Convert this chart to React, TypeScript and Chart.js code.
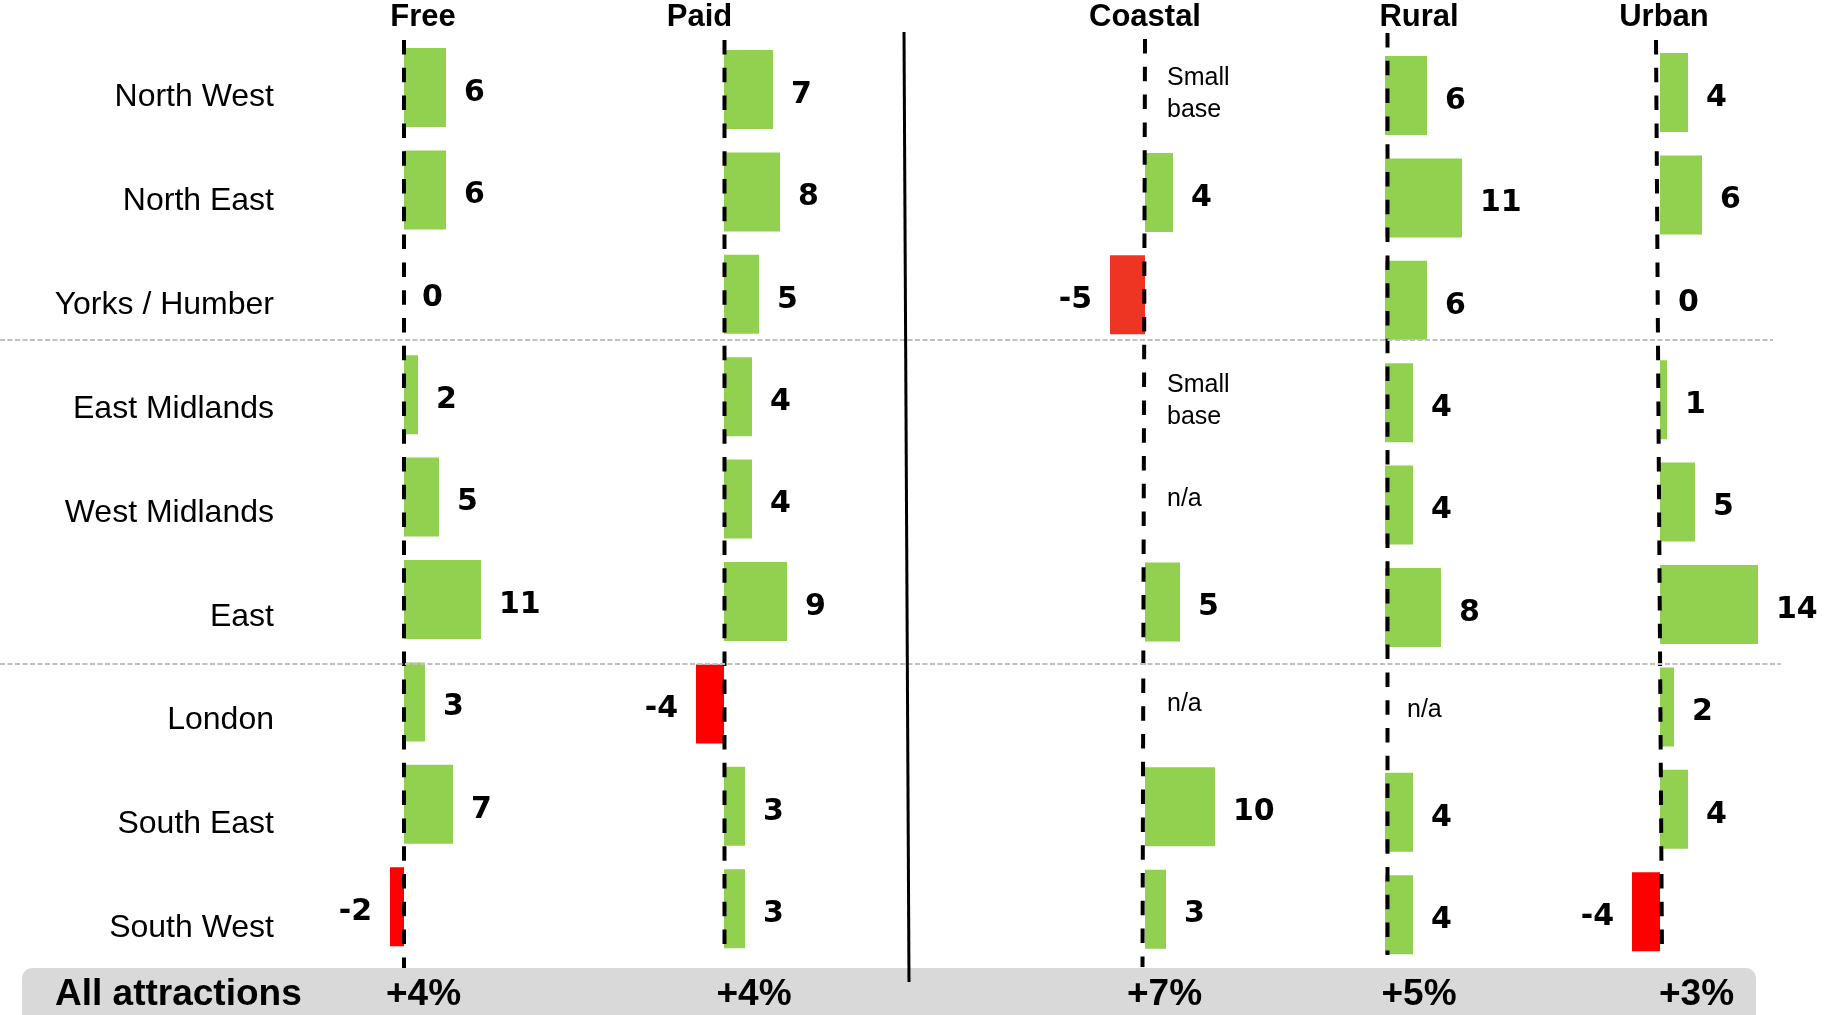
import { useEffect, useRef } from "react";
import { Chart, registerables } from "chart.js";

Chart.register(...registerables);

// ---- data ----
const REGIONS = [
  "North West",
  "North East",
  "Yorks / Humber",
  "East Midlands",
  "West Midlands",
  "East",
  "London",
  "South East",
  "South West",
];
const PANEL_TITLES = ["Free", "Paid", "Coastal", "Rural", "Urban"];
const FREE = [6, 6, 0, 2, 5, 11, 3, 7, -2];
const PAID = [7, 8, 5, 4, 4, 9, -4, 3, 3];
const COASTAL = [null, 4, -5, null, null, 5, null, 10, 3];
const RURAL = [6, 11, 6, 4, 4, 8, null, 4, 4];
const URBAN = [4, 6, 0, 1, 5, 14, 2, 4, -4];
const COASTAL_NOTES = ["Small base", "", "", "Small base", "n/a", "", "n/a", "", ""];
const RURAL_NOTES = ["", "", "", "", "", "", "n/a", "", ""];
const NO_NOTES = ["", "", "", "", "", "", "", "", ""];
const TOTAL_LABEL = "All attractions";
const TOTALS = ["+4%", "+4%", "+7%", "+5%", "+3%"];

const SERIES = [FREE, PAID, COASTAL, RURAL, URBAN];
const NOTES = [NO_NOTES, NO_NOTES, COASTAL_NOTES, RURAL_NOTES, NO_NOTES];

// ---- layout & style ----
const W = 1825;
const H = 1015;
const GREEN = "#92D050";
const PX_PER_UNIT = 7;
const X_MIN = -16;
const X_MAX = 23;
const CANVAS_H = 975;
const ROW_TOP = 36.3;
const ROW_BOTTOM = 957.9;
const SANS = "'Liberation Sans', Arial, sans-serif";

type PanelLayout = {
  zeroX: number;
  dy: number;
  dashTop: number;
  dashBottom: number;
  dashShift: [number, number];
  neg: string;
  titleX: number;
  totalX: number;
};

const PANELS: PanelLayout[] = [
  { zeroX: 404, dy: 0, dashTop: 40, dashBottom: 968, dashShift: [0, 0], neg: "#FF0000", titleX: 423, totalX: 423.5 },
  { zeroX: 723.5, dy: 2, dashTop: 40, dashBottom: 952, dashShift: [0.5, 0.5], neg: "#FF0000", titleX: 699.5, totalX: 754 },
  { zeroX: 1145, dy: 2.5, dashTop: 39, dashBottom: 967, dashShift: [0, -2.5], neg: "#EE3524", titleX: 1145, totalX: 1164.5 },
  { zeroX: 1385, dy: 8, dashTop: 33, dashBottom: 955, dashShift: [2.5, 2.5], neg: "#FF0000", titleX: 1419, totalX: 1419 },
  { zeroX: 1660, dy: 5, dashTop: 40, dashBottom: 952, dashShift: [-4, 2], neg: "#FF0000", titleX: 1664, totalX: 1696.5 },
];

function Panel({ index }: { index: number }) {
  const ref = useRef<HTMLCanvasElement | null>(null);
  const layout = PANELS[index];
  const values = SERIES[index];
  const notes = NOTES[index];
  const left = layout.zeroX + X_MIN * PX_PER_UNIT;
  const width = (X_MAX - X_MIN) * PX_PER_UNIT;

  useEffect(() => {
    if (!ref.current) return;
    const marks = {
      id: "panelMarks",
      afterDatasetsDraw(chart: any) {
        const ctx = chart.ctx as CanvasRenderingContext2D;
        const xs = chart.scales.x;
        const ys = chart.scales.y;
        const zero = xs.getPixelForValue(0);

        // dashed zero line
        ctx.save();
        ctx.strokeStyle = "#000";
        ctx.lineWidth = 4;
        ctx.setLineDash([14.5, 13.3]);
        ctx.beginPath();
        ctx.moveTo(zero + layout.dashShift[0], layout.dashTop);
        ctx.lineTo(zero + layout.dashShift[1], layout.dashBottom);
        ctx.stroke();
        ctx.restore();

        // value labels and notes
        const meta = chart.getDatasetMeta(0);
        ctx.save();
        ctx.fillStyle = "#000";
        values.forEach((v: number | null, i: number) => {
          if (v === null || v === undefined) {
            const note = notes[i];
            if (!note) return;
            const y = ys.getPixelForValue(i);
            const lines = note.split(" ");
            ctx.font = `25px ${SANS}`;
            ctx.textAlign = "left";
            if (lines.length === 1) {
              ctx.textBaseline = "middle";
              ctx.fillText(lines[0], zero + 22, y);
            } else {
              ctx.textBaseline = "alphabetic";
              ctx.fillText(lines[0], zero + 22, y - 5);
              ctx.fillText(lines[1], zero + 22, y + 26.5);
            }
            return;
          }
          const bar = meta.data[i];
          if (!bar) return;
          ctx.font = "bold 30px 'DejaVu Sans', Verdana, sans-serif";
          ctx.textBaseline = "middle";
          if (v >= 0) {
            ctx.textAlign = "left";
            ctx.fillText(String(v), bar.x + 18, bar.y + 5.5);
          } else {
            ctx.textAlign = "right";
            ctx.fillText(String(v), bar.x - 18, bar.y + 5.5);
          }
        });
        ctx.restore();
      },
    };

    const chart = new Chart(ref.current, {
      type: "bar",
      data: {
        labels: REGIONS,
        datasets: [
          {
            label: PANEL_TITLES[index],
            data: values as any,
            backgroundColor: values.map((v: number | null) => (v !== null && v < 0 ? layout.neg : GREEN)),
            borderWidth: 0,
            barPercentage: 0.7715,
            categoryPercentage: 1,
          },
        ],
      },
      options: {
        indexAxis: "y",
        responsive: false,
        animation: false,
        events: [],
        layout: {
          padding: {
            left: 0,
            right: 0,
            top: ROW_TOP + layout.dy,
            bottom: CANVAS_H - ROW_BOTTOM - layout.dy,
          },
        },
        plugins: {
          legend: { display: false },
          tooltip: { enabled: false },
          title: { display: false },
        },
        scales: {
          x: { type: "linear", min: X_MIN, max: X_MAX, display: false },
          y: { type: "category", display: false, offset: true },
        },
      },
      plugins: [marks],
    });
    return () => chart.destroy();
  }, [index]);

  return (
    <canvas
      ref={ref}
      width={width}
      height={CANVAS_H}
      style={{ position: "absolute", left, top: 0, width, height: CANVAS_H }}
    />
  );
}

export default function App() {
  return (
    <div
      style={{
        position: "absolute",
        left: 0,
        top: 0,
        width: W,
        height: H,
        background: "#fff",
        overflow: "hidden",
      }}
    >
      {PANEL_TITLES.map((_, i) => (
        <Panel key={i} index={i} />
      ))}
      <svg
        width={W}
        height={H}
        style={{ position: "absolute", left: 0, top: 0, pointerEvents: "none" }}
      >
        {/* group separators */}
        <line x1={0} y1={340} x2={1773} y2={340} stroke="#BFBFBF" strokeWidth={2} strokeDasharray="5 2.5" />
        <line x1={0} y1={664} x2={1781} y2={664} stroke="#BFBFBF" strokeWidth={2} strokeDasharray="5 2.5" />

        {/* totals band */}
        <rect x={22} y={968} width={1734} height={70} rx={10} ry={10} fill="#D9D9D9" />

        {/* divider between type and location panels */}
        <line x1={904} y1={32} x2={909} y2={982} stroke="#000" strokeWidth={3} />

        {/* panel titles */}
        {PANEL_TITLES.map((t, i) => (
          <text
            key={t}
            x={PANELS[i].titleX}
            y={26}
            textAnchor="middle"
            fontFamily={SANS}
            fontWeight="bold"
            fontSize={31}
            fill="#000"
          >
            {t}
          </text>
        ))}

        {/* region labels */}
        {REGIONS.map((r, i) => (
          <text
            key={r}
            x={274}
            y={106 + i * 103.9}
            textAnchor="end"
            fontFamily={SANS}
            fontSize={32}
            fill="#000"
          >
            {r}
          </text>
        ))}

        {/* totals */}
        <text x={55} y={1005} fontFamily={SANS} fontWeight="bold" fontSize={37} fill="#000">
          {TOTAL_LABEL}
        </text>
        {TOTALS.map((t, i) => (
          <text
            key={i}
            x={PANELS[i].totalX}
            y={1005}
            textAnchor="middle"
            fontFamily={SANS}
            fontWeight="bold"
            fontSize={37}
            fill="#000"
          >
            {t}
          </text>
        ))}
      </svg>
    </div>
  );
}
